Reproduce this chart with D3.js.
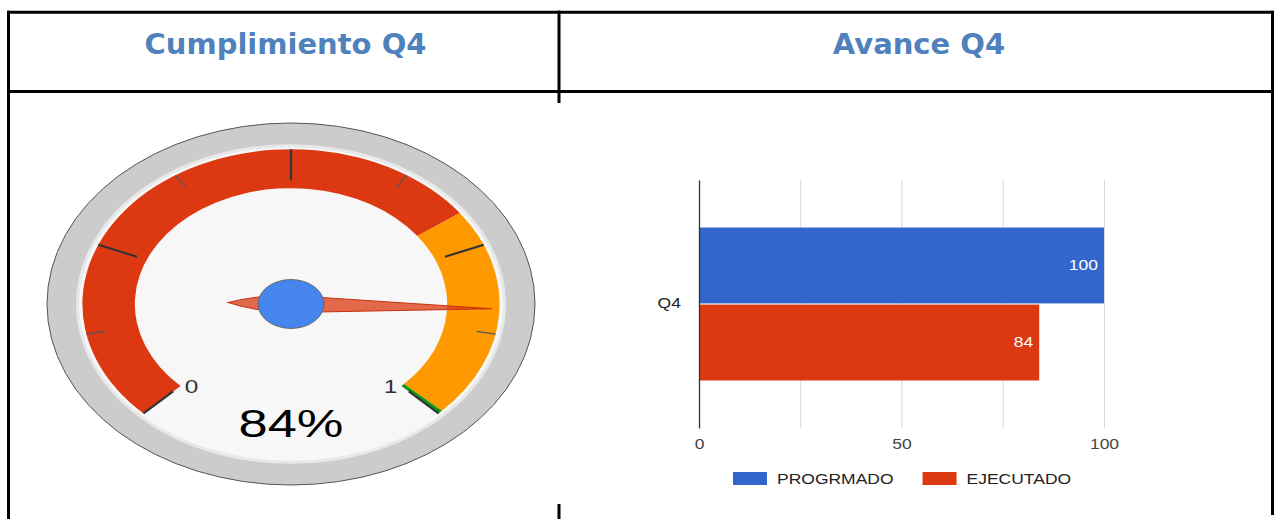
<!DOCTYPE html>
<html><head><meta charset="utf-8">
<script src="https://cdn.jsdelivr.net/npm/d3@7"></script>
<style>body{margin:0;background:#fff;} svg{display:block}</style>
</head><body>
<svg id="c" width="1276" height="519"></svg>
<script>
// ---------- data ----------
const titles = ["Cumplimiento Q4", "Avance Q4"];
const gaugeMin = 0, gaugeMax = 1;
const gaugeValue = 0.84;
const gaugeMajorLabels = ["0", "", "", "", "1"];
const gaugeMinorTicks = 2;
const gaugeBandFrom = [0, 0.7, 0.995];
const gaugeBandTo = [0.7, 0.995, 1];
const gaugeBandColors = ["#DC3912", "#FF9900", "#109618"];

const categories = ["Q4"];
const seriesNames = ["PROGRMADO", "EJECUTADO"];
const seriesColors = ["#3366CC", "#DC3912"];
const seriesValues = [[100], [84]];
const xTickValues = [0, 50, 100];
const xGridValues = [25, 50, 75, 100];

// ---------- setup ----------
const svg = d3.select("#c");
const FONT = "'Liberation Sans', Arial, sans-serif";

// table borders
const lines = [
  [7, 12.2, 1274, 12.2],
  [7, 91.5, 1274, 91.5],
  [8.5, 10.7, 8.5, 519],
  [559, 10.7, 559, 103],
  [559, 504, 559, 519],
  [1272.5, 10.7, 1272.5, 515]
];
svg.selectAll("line.tbl").data(lines).join("line").attr("class", "tbl")
  .attr("x1", d => d[0]).attr("y1", d => d[1]).attr("x2", d => d[2]).attr("y2", d => d[3])
  .attr("stroke", "#000").attr("stroke-width", 3);

// titles
svg.selectAll("text.title").data(titles).join("text").attr("class", "title")
  .attr("x", (d, i) => [285.5, 919][i]).attr("y", 54)
  .attr("text-anchor", "middle")
  .attr("font-family", "'DejaVu Sans', Verdana, sans-serif").attr("font-weight", "bold")
  .attr("font-size", 29).attr("fill", "#4F81BD").text(d => d);

// ---------- gauge ----------
const G = svg.append("g").attr("transform", "translate(291,304) scale(2.44,1.81)");
const ang = v => (-135 + (v - gaugeMin) / (gaugeMax - gaugeMin) * 270) * Math.PI / 180;
const pt = (r, a) => [r * Math.sin(a), -r * Math.cos(a)];

G.append("circle").attr("r", 100).attr("fill", "#ccc").attr("stroke", "#555")
  .attr("stroke-width", 1).attr("vector-effect", "non-scaling-stroke");
G.append("circle").attr("r", 87.5).attr("fill", "#f7f7f7").attr("stroke", "#e8e8e8")
  .attr("stroke-width", 3).attr("vector-effect", "non-scaling-stroke");

const arc = d3.arc().innerRadius(64).outerRadius(85.5);
G.selectAll("path.band").data(gaugeBandFrom.map((f, i) => ({f, t: gaugeBandTo[i], c: gaugeBandColors[i]})))
  .join("path").attr("class", "band")
  .attr("d", d => arc({startAngle: ang(d.f), endAngle: ang(d.t)}))
  .attr("fill", d => d.c);

const nMaj = gaugeMajorLabels.length;
const majors = d3.range(nMaj).map(i => gaugeMin + i * (gaugeMax - gaugeMin) / (nMaj - 1));
const minors = [];
for (let i = 0; i < nMaj - 1; i++) for (let j = 1; j < gaugeMinorTicks; j++)
  minors.push(majors[i] + (majors[i + 1] - majors[i]) * j / gaugeMinorTicks);

G.selectAll("line.minor").data(minors).join("line").attr("class", "minor")
  .each(function (v) {
    const a = ang(v), p1 = pt(77.5, a), p2 = pt(85.5, a);
    d3.select(this).attr("x1", p1[0]).attr("y1", p1[1]).attr("x2", p2[0]).attr("y2", p2[1]);
  })
  .attr("stroke", "#555").attr("stroke-width", 1.2).attr("vector-effect", "non-scaling-stroke");
G.selectAll("line.major").data(majors).join("line").attr("class", "major")
  .each(function (v) {
    const a = ang(v), p1 = pt(68.3, a), p2 = pt(85.5, a);
    d3.select(this).attr("x1", p1[0]).attr("y1", p1[1]).attr("x2", p2[0]).attr("y2", p2[1]);
  })
  .attr("stroke", "#333").attr("stroke-width", 2.2).attr("vector-effect", "non-scaling-stroke");

G.selectAll("text.lbl").data(majors.map((v, i) => ({v, t: gaugeMajorLabels[i]})).filter(d => d.t))
  .join("text").attr("class", "lbl")
  .each(function (d) {
    const side = d.v <= (gaugeMin + gaugeMax) / 2 ? -1 : 1;
    const a = ang(d.v) + side * 3.3 * Math.PI / 180;
    const p = pt(61.3, a);
    d3.select(this).attr("x", p[0]).attr("y", p[1]);
  })
  .attr("dy", "0.36em").attr("text-anchor", "middle")
  .attr("font-family", FONT).attr("font-size", 10).attr("fill", "#333").text(d => d.t);

G.append("text").attr("x", 0).attr("y", 73.3).attr("text-anchor", "middle")
  .attr("font-family", FONT).attr("font-size", 21.5).attr("fill", "#000")
  .text(d3.format(".0%")(gaugeValue));

G.append("path")
  .attr("d", "M0,25.8 Q4.7,14 4.7,0 L0,-82.4 L-4.7,0 Q-4.7,14 0,25.8 Z")
  .attr("transform", `rotate(${ang(gaugeValue) * 180 / Math.PI})`)
  .attr("fill", "#DC3912").attr("fill-opacity", 0.75)
  .attr("stroke", "#C63310").attr("stroke-width", 1).attr("vector-effect", "non-scaling-stroke");
G.append("circle").attr("r", 13.5).attr("fill", "#4684EE").attr("stroke", "#666")
  .attr("stroke-width", 1).attr("vector-effect", "non-scaling-stroke");

// ---------- bar chart ----------
const K = 1.25, FS = 14;
const x = d3.scaleLinear().domain([0, 100]).range([699, 1104]);
const y0 = d3.scaleBand().domain(categories).range([180, 428]).paddingInner(0.237).paddingOuter(0.237);
const y1 = d3.scaleBand().domain(seriesNames).range([0, y0.bandwidth()]).paddingInner(0.015);

const grid = svg.append("g").attr("transform", "translate(0,428)")
  .call(d3.axisBottom(x).tickValues(xGridValues).tickSize(-248).tickFormat(""));
grid.select(".domain").remove();
grid.selectAll("line").attr("stroke", "#d9d9d9");

const bars = [];
seriesNames.forEach((s, si) => categories.forEach((c, ci) =>
  bars.push({s, c, v: seriesValues[si][ci], color: seriesColors[si]})));

svg.selectAll("rect.bar").data(bars).join("rect").attr("class", "bar")
  .attr("x", x(0)).attr("y", d => y0(d.c) + y1(d.s))
  .attr("width", d => x(d.v) - x(0)).attr("height", y1.bandwidth())
  .attr("fill", d => d.color);

svg.selectAll("text.val").data(bars).join("text").attr("class", "val")
  .attr("transform", d => `translate(${x(d.v) - 6},${y0(d.c) + y1(d.s) + y1.bandwidth() / 2}) scale(${K},1)`)
  .attr("dy", "0.35em").attr("text-anchor", "end")
  .attr("font-family", FONT).attr("font-size", FS).attr("fill", "#fff").text(d => d.v);

// x axis labels
const xa = svg.append("g").attr("transform", "translate(0,428)")
  .call(d3.axisBottom(x).tickValues(xTickValues).tickSize(0).tickPadding(11));
xa.select(".domain").remove();
xa.selectAll("text").attr("font-family", FONT).attr("font-size", FS).attr("fill", "#444")
  .attr("transform", `scale(${K},1)`);

// y axis
const ya = svg.append("g").attr("transform", "translate(699,0)")
  .call(d3.axisLeft(y0).tickSize(0).tickPadding(14.5));
ya.select(".domain").attr("stroke", "#333").attr("stroke-width", 1.3);
ya.selectAll("text").attr("font-family", FONT).attr("font-size", FS).attr("fill", "#222")
  .attr("transform", `scale(${K},1)`);

// legend
let lx = 733;
seriesNames.forEach((s, i) => {
  svg.append("rect").attr("x", lx).attr("y", 472).attr("width", 34).attr("height", 13)
    .attr("fill", seriesColors[i]);
  const t = svg.append("text").attr("transform", `translate(${lx + 44},483.5) scale(${K},1)`)
    .attr("font-family", FONT).attr("font-size", FS).attr("fill", "#222").text(s);
  lx = lx + 44 + t.node().getComputedTextLength() * K + 29;
});
</script>
</body></html>
